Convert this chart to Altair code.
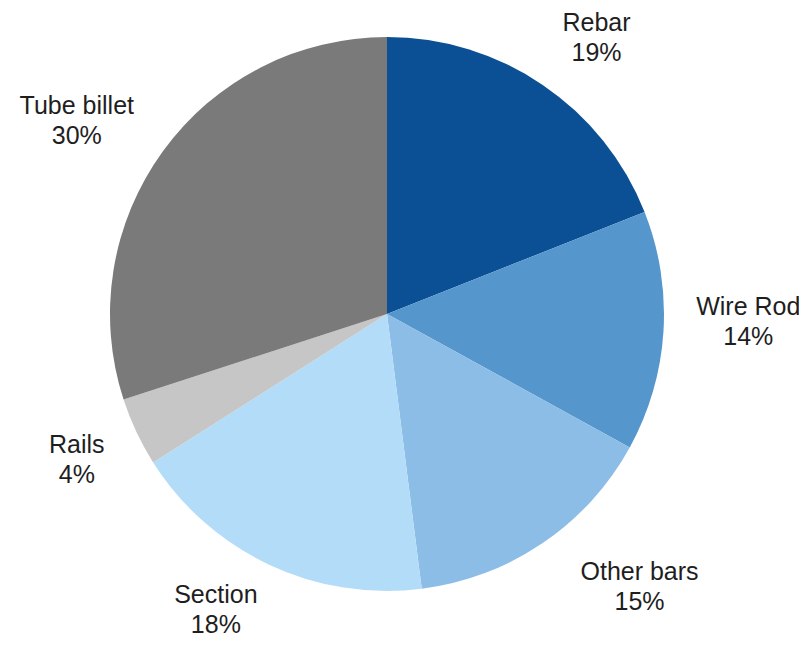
import altair as alt
import pandas as pd
import math

categories = ["Rebar", "Wire Rod", "Other bars", "Section", "Rails", "Tube billet"]
shares = [19, 14, 15, 18, 4, 30]
colors = ["#0b4f95", "#5596cc", "#8cbde6", "#b3dcf8", "#c6c6c6", "#7a7a7a"]

df = pd.DataFrame({
    "category": categories,
    "share": shares,
    "order": list(range(len(categories))),
})
df["label"] = [f"{c}\n{s}%" for c, s in zip(categories, shares)]

cx, cy = 379, 306
total = sum(shares)
theta_scale = alt.Scale(domain=[0, total], range=[0, 2 * math.pi])

base = alt.Chart(df).transform_window(
    cum="sum(share)", sort=[alt.SortField("order")],
    frame=[None, 0],
).transform_calculate(
    start="datum.cum - datum.share",
    mid="datum.cum - datum.share / 2",
)

pie = base.mark_arc(radius=277, x=cx, y=cy).encode(
    theta=alt.Theta("start:Q", scale=theta_scale),
    theta2="cum:Q",
    color=alt.Color("category:N", scale=alt.Scale(domain=categories, range=colors), legend=None),
)

# small per-label nudges (label placement style, like a "best fit" layout)
nudges = {
    "Rebar": (10, 18),
    "Wire Rod": (7, -14),
    "Other bars": (53, -21),
    "Section": (-20, -25),
    "Rails": (11, -5),
    "Tube billet": (-23, 16),
}

layers = [pie]
for cat in categories:
    ndx, ndy = nudges[cat]
    layers.append(
        base.transform_filter(alt.datum.category == cat).mark_text(
            radius=355, x=cx, y=cy, fontSize=25, font="Liberation Sans",
            color="#1e1e1e", lineBreak="\n", align="center", baseline="middle",
            lineHeight=30, dx=ndx, dy=-15 + ndy,
        ).encode(
            theta=alt.Theta("mid:Q", scale=theta_scale),
            text="label:N",
        )
    )

chart = alt.layer(*layers).properties(
    width=791, height=630,
    autosize=alt.AutoSizeParams(type="none"),
    padding=0,
).configure_view(stroke=None)

chart.save("out.html", embed_options={"renderer": "svg", "actions": False})
